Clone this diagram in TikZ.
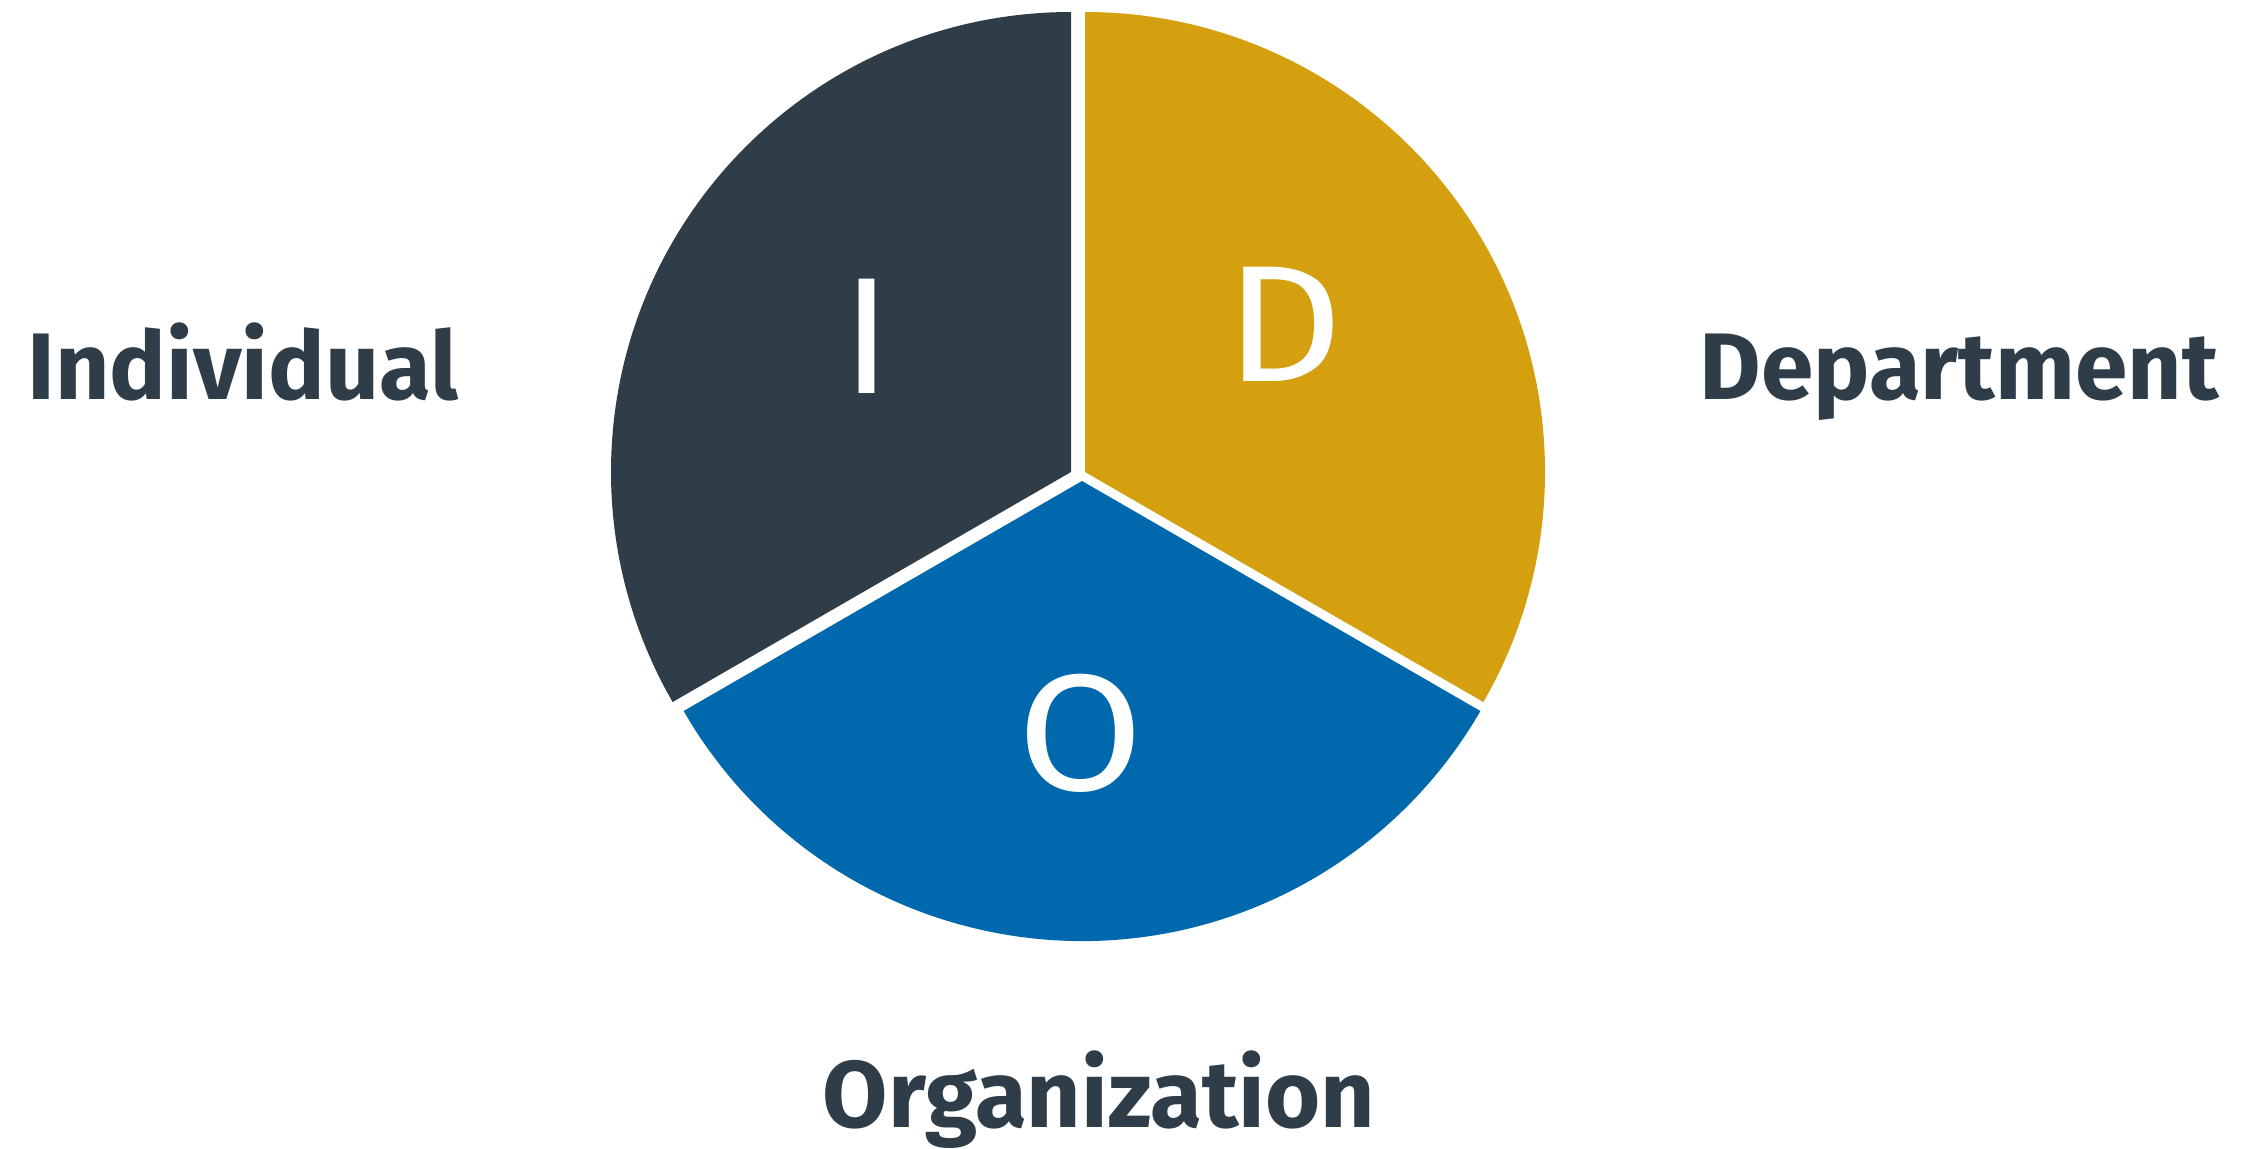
\documentclass[tikz,border=0pt]{standalone}
\usepackage{fontspec}
\setmainfont{Fira Sans}
\definecolor{slate}{HTML}{2E3D48}
\definecolor{gold}{HTML}{D4A00F}
\definecolor{blue}{HTML}{0068AC}
\begin{document}
\begin{tikzpicture}[x=0.5pt,y=-0.5pt,
  outerlabel/.style={inner sep=0pt, text=slate, font=\fontsize{47.3}{52}\selectfont\bfseries},
  innerletter/.style={inner sep=0pt, text=white, font=\fontsize{83}{90}\selectfont}]
\useasboundingbox (0,0) rectangle (2244,1148);
\coordinate (ci) at (1071,472);
\coordinate (cd) at (1085,472);
\coordinate (co) at (1082,481);
\fill[slate] (ci) -- ++(0,-460) arc[start angle=270, end angle=150, radius=460] -- cycle;
\fill[gold] (cd) -- ++(0,-460) arc[start angle=270, end angle=390, radius=460] -- cycle;
\fill[blue] (co) -- ++(150:460) arc[start angle=150, end angle=30, radius=460] -- cycle;
\node[innerletter, anchor=base] (li) at (867,393) {I};
\node[innerletter, anchor=base] (ld) at (1284,381) {\scalebox{1.1}[1]{D}};
\node[innerletter, anchor=base] (lo) at (1081,790) {\scalebox{1.1}[1]{O}};
\node[outerlabel, anchor=base] (ind) at (243,399) {Individual};
\node[outerlabel, anchor=base] (dep) at (1959,399) {Department};
\node[outerlabel, anchor=base] (org) at (1099,1127) {Organization};
\end{tikzpicture}
\end{document}
